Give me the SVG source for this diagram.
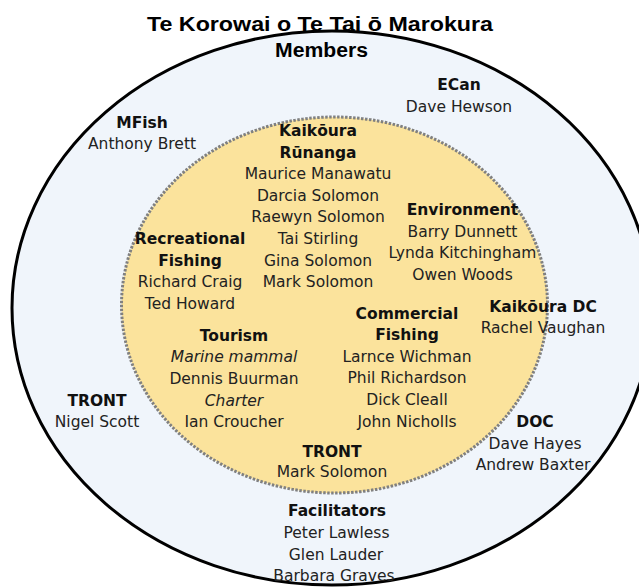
<svg xmlns="http://www.w3.org/2000/svg" width="639" height="587" viewBox="0 0 639 587">
<style>
  .t { font-family: "DejaVu Sans", Verdana, sans-serif; font-size: 15.5px; fill: #222; text-anchor: middle; }
  .h { font-family: "DejaVu Sans", Verdana, sans-serif; font-size: 15.5px; font-weight: bold; fill: #111; text-anchor: middle; }
  .i { font-style: italic; }
  .title { font-family: "Liberation Sans", Arial, sans-serif; font-size: 20px; font-weight: bold; fill: #000; text-anchor: middle; }
  .outer { fill: #f0f5fb; stroke: #000; stroke-width: 3; }
  .inner { fill: #fbe39c; stroke: #808080; stroke-width: 3; stroke-dasharray: 2.5 1.5; }
</style>
<rect width="639" height="587" fill="#ffffff"/>
<g id="members-circle"><ellipse class="outer" cx="332" cy="308" rx="320" ry="277"/></g>
<g id="core-circle"><ellipse class="inner" cx="334.5" cy="305" rx="213" ry="188"/></g>
<g id="title">
  <text class="title" x="320" y="31" textLength="346" lengthAdjust="spacingAndGlyphs">Te Korowai o Te Tai ō Marokura</text>
  <text class="title" x="321.5" y="57" textLength="93" lengthAdjust="spacingAndGlyphs">Members</text>
</g>
<g id="ecan"><text class="h" x="459" y="90">ECan</text><text class="t" x="459" y="111.5">Dave Hewson</text></g>
<g id="mfish"><text class="h" x="142" y="128">MFish</text><text class="t" x="142" y="149">Anthony Brett</text></g>
<g id="runanga">
  <text class="h" x="318" y="136">Kaikōura</text>
  <text class="h" x="318" y="157.6">Rūnanga</text>
  <text class="t" x="318" y="179.2">Maurice Manawatu</text>
  <text class="t" x="318" y="200.8">Darcia Solomon</text>
  <text class="t" x="318" y="222.4">Raewyn Solomon</text>
  <text class="t" x="318" y="244">Tai Stirling</text>
  <text class="t" x="318" y="265.6">Gina Solomon</text>
  <text class="t" x="318" y="287.2">Mark Solomon</text>
</g>
<g id="environment">
  <text class="h" x="462.5" y="215">Environment</text>
  <text class="t" x="462.5" y="236.6">Barry Dunnett</text>
  <text class="t" x="462.5" y="258.2">Lynda Kitchingham</text>
  <text class="t" x="462.5" y="279.8">Owen Woods</text>
</g>
<g id="recreational">
  <text class="h" x="190" y="244">Recreational</text>
  <text class="h" x="190" y="265.6">Fishing</text>
  <text class="t" x="190" y="287.2">Richard Craig</text>
  <text class="t" x="190" y="308.8">Ted Howard</text>
</g>
<g id="kaikoura-dc"><text class="h" x="543" y="311.5">Kaikōura DC</text><text class="t" x="543" y="333">Rachel Vaughan</text></g>
<g id="commercial">
  <text class="h" x="407" y="318.5">Commercial</text>
  <text class="h" x="407" y="340.1">Fishing</text>
  <text class="t" x="407" y="361.7">Larnce Wichman</text>
  <text class="t" x="407" y="383.3">Phil Richardson</text>
  <text class="t" x="407" y="404.9">Dick Cleall</text>
  <text class="t" x="407" y="426.5">John Nicholls</text>
</g>
<g id="tourism">
  <text class="h" x="234" y="340.7">Tourism</text>
  <text class="t i" x="234" y="362.3">Marine mammal</text>
  <text class="t" x="234" y="383.9">Dennis Buurman</text>
  <text class="t i" x="234" y="405.5">Charter</text>
  <text class="t" x="234" y="427.1">Ian Croucher</text>
</g>
<g id="tront-outer"><text class="h" x="97" y="406">TRONT</text><text class="t" x="97" y="427.3">Nigel Scott</text></g>
<g id="doc">
  <text class="h" x="535" y="427">DOC</text>
  <text class="t" x="535" y="448.5">Dave Hayes</text>
  <text class="t" x="533" y="470">Andrew Baxter</text>
</g>
<g id="tront-inner"><text class="h" x="332" y="456.7">TRONT</text><text class="t" x="332" y="476.7">Mark Solomon</text></g>
<g id="facilitators">
  <text class="h" x="337" y="515.5">Facilitators</text>
  <text class="t" x="336.5" y="537.5">Peter Lawless</text>
  <text class="t" x="336" y="559.5">Glen Lauder</text>
  <text class="t" x="334" y="580.5">Barbara Graves</text>
</g>
</svg>
